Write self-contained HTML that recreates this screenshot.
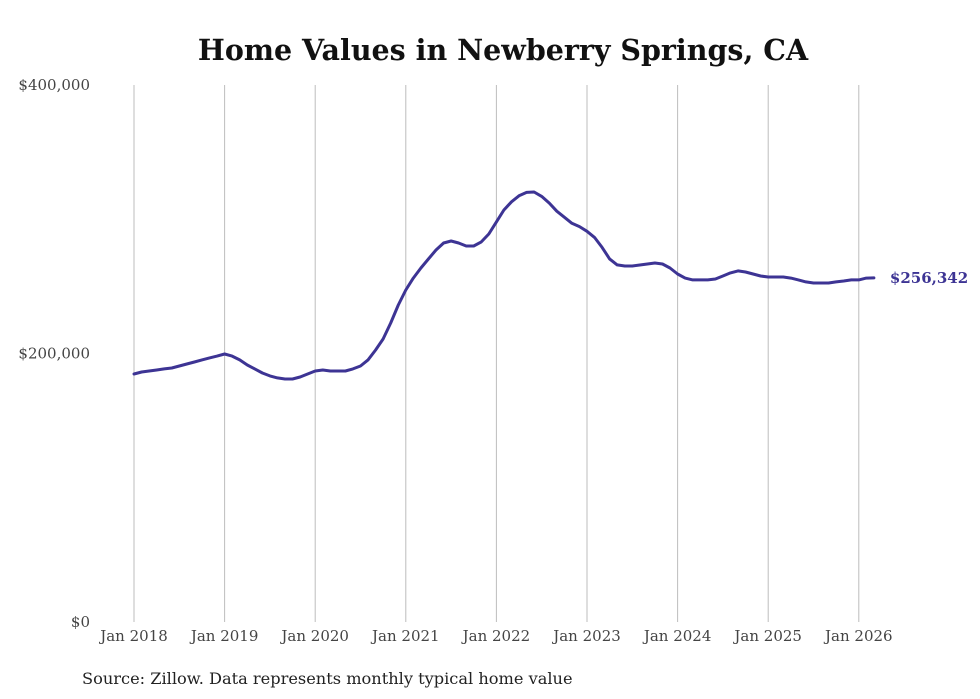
<!DOCTYPE html>
<html><head><meta charset="utf-8"><style>
body{margin:0;background:#fff;}
svg{display:block;font-family:"DejaVu Serif","Liberation Serif",serif;}
</style></head><body>
<svg id="chart" width="980" height="699" viewBox="0 0 980 699">
<rect width="980" height="699" fill="#fff"/>
<text x="503" y="60" text-anchor="middle" font-size="28.5" font-weight="bold" fill="#111">Home Values in Newberry Springs, CA</text>
<g id="grid"></g><g id="yaxis"></g><g id="xaxis"></g><g id="series"></g>
<text x="82" y="684" font-size="16.2" fill="#222">Source: Zillow. Data represents monthly typical home value</text>
</svg>
<script>
const yTicks=[0,200000,400000];
const yTickLabels=["$0","$200,000","$400,000"];
const xYears=[2018,2019,2020,2021,2022,2023,2024,2025,2026];
const xTickLabels=["Jan 2018","Jan 2019","Jan 2020","Jan 2021","Jan 2022","Jan 2023","Jan 2024","Jan 2025","Jan 2026"];
const values=[
184.7,186.2,187.0,187.7,188.5,189.2,190.7,192.2,193.7,195.2,196.7,198.1,
199.6,198.1,195.2,191.4,188.5,185.5,183.3,181.8,181.0,181.0,182.5,184.7,
187.0,187.7,187.0,187.0,187.0,188.5,190.7,195.2,202.6,210.8,222.7,236.1,
247.3,256.2,263.7,270.4,277.1,282.3,283.8,282.3,280.1,280.1,283.1,289.0,
298.0,306.9,313.0,317.5,320.0,320.3,317.0,312.0,306.0,301.5,297.0,294.5,
291.0,286.5,279.0,270.5,266.0,265.2,265.2,265.9,266.7,267.4,266.7,263.7,
259.2,256.2,254.8,254.8,254.8,255.5,257.7,260.0,261.5,260.7,259.2,257.7,
257.0,257.0,257.0,256.2,254.8,253.3,252.5,252.5,252.5,253.3,254.0,254.8,
254.8,256.2,256.342].map(v=>v*1000);
const lastLabel="$256,342";
const NS="http://www.w3.org/2000/svg";
const X0=134,PX_PER_YEAR=90.6,Y0=622,Y1=85;
function xScale(monthIdx){return X0+monthIdx*PX_PER_YEAR/12;}
function yScale(v){return Y0-(v/400000)*(Y0-Y1);}
function mk(tag,attrs,parent){const e=document.createElementNS(NS,tag);for(const k in attrs)e.setAttribute(k,attrs[k]);parent.appendChild(e);return e;}
const grid=document.getElementById('grid'),ya=document.getElementById('yaxis'),xa=document.getElementById('xaxis'),se=document.getElementById('series');
xYears.forEach((yr,i)=>{
  const x=xScale((yr-2018)*12);
  const l=mk('line',{x1:x,x2:x,y1:Y1,y2:Y0,stroke:'#bdbdbd','stroke-width':1},grid);
  
  
  const t=mk('text',{x:x,y:641,'text-anchor':'middle','font-size':15,fill:'#444'},xa);
  t.textContent=xTickLabels[i];
  
  
});
yTicks.forEach((v,i)=>{
  const t=mk('text',{x:90,y:yScale(v)+5,'text-anchor':'end','font-size':15,fill:'#444'},ya);
  t.textContent=yTickLabels[i];
  
  
});
const d=values.map((v,i)=>(i?'L':'M')+xScale(i).toFixed(1)+','+yScale(v).toFixed(1)).join('');
const p=mk('path',{d:d,fill:'none',stroke:'#3d3494','stroke-width':3,'stroke-linejoin':'round','stroke-linecap':'round'},se);


const li=values.length-1;
const lt=mk('text',{x:xScale(li)+16,y:yScale(values[li])+5,'font-size':15,'font-weight':'bold',fill:'#3d3494'},se);
lt.textContent=lastLabel;


</script>
</body></html>
